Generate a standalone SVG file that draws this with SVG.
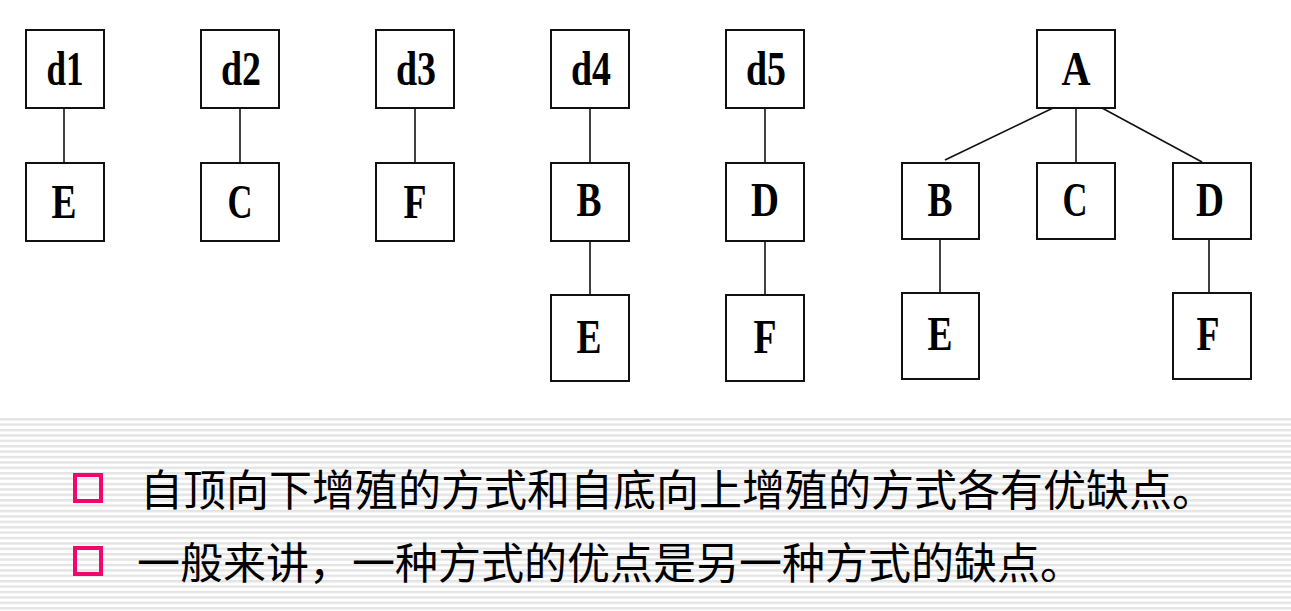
<svg xmlns="http://www.w3.org/2000/svg" width="1291" height="611" viewBox="0 0 1291 611">
  <style>
    .box { fill: #ffffff; stroke: #111111; stroke-width: 2; }
    .lbl { font-family: "Liberation Serif", "DejaVu Serif", serif; font-weight: bold; font-size: 48px; fill: #000000; text-anchor: middle; }
    .edge { stroke: #111111; stroke-width: 1.6; fill: none; }
    .bullet { fill: none; stroke: #f0066c; stroke-width: 4; }
    .para { font-family: "Noto Sans CJK SC", sans-serif; font-size: 43px; fill: #000000; }
  </style>
  <defs>
    <pattern id="stripes" x="0" y="418" width="20" height="5.4" patternUnits="userSpaceOnUse">
      <rect x="0" y="0" width="20" height="5.4" fill="#ffffff"/>
      <rect x="0" y="0" width="20" height="2.4" fill="#e4e4e4"/>
    </pattern>
  </defs>

  <!-- page background -->
  <rect x="0" y="0" width="1291" height="611" fill="#ffffff"/>
  <rect x="0" y="418" width="1291" height="193" fill="url(#stripes)"/>

  <!-- connectors -->
  <g id="connectors">
    <line class="edge" x1="64" y1="108" x2="64" y2="163"/>
    <line class="edge" x1="240" y1="108" x2="240" y2="163"/>
    <line class="edge" x1="415" y1="108" x2="415" y2="163"/>
    <line class="edge" x1="590" y1="108" x2="590" y2="163"/>
    <line class="edge" x1="590" y1="241" x2="590" y2="295"/>
    <line class="edge" x1="765" y1="108" x2="765" y2="163"/>
    <line class="edge" x1="765" y1="241" x2="765" y2="295"/>
    <line class="edge" x1="1053" y1="108" x2="945" y2="160"/>
    <line class="edge" x1="1076" y1="108" x2="1076" y2="163"/>
    <line class="edge" x1="1102" y1="108" x2="1202" y2="162"/>
    <line class="edge" x1="940" y1="239" x2="940" y2="293"/>
    <line class="edge" x1="1209" y1="239" x2="1209" y2="293"/>
  </g>

  <!-- chain d1 - E -->
  <g id="d1"><rect class="box" x="26" y="30" width="78" height="78"/><text class="lbl" x="65" y="85" textLength="37" lengthAdjust="spacingAndGlyphs">d1</text></g>
  <g id="d1-E"><rect class="box" x="26" y="163" width="78" height="78"/><text class="lbl" x="64" y="218" textLength="25" lengthAdjust="spacingAndGlyphs">E</text></g>

  <!-- chain d2 - C -->
  <g id="d2"><rect class="box" x="201" y="30" width="78" height="78"/><text class="lbl" x="241" y="85" textLength="40" lengthAdjust="spacingAndGlyphs">d2</text></g>
  <g id="d2-C"><rect class="box" x="201" y="163" width="78" height="78"/><text class="lbl" x="240" y="218" textLength="25" lengthAdjust="spacingAndGlyphs">C</text></g>

  <!-- chain d3 - F -->
  <g id="d3"><rect class="box" x="376" y="30" width="78" height="78"/><text class="lbl" x="416" y="85" textLength="40" lengthAdjust="spacingAndGlyphs">d3</text></g>
  <g id="d3-F"><rect class="box" x="376" y="163" width="78" height="78"/><text class="lbl" x="415" y="218" textLength="23" lengthAdjust="spacingAndGlyphs">F</text></g>

  <!-- chain d4 - B - E -->
  <g id="d4"><rect class="box" x="551" y="30" width="78" height="78"/><text class="lbl" x="591" y="85" textLength="40" lengthAdjust="spacingAndGlyphs">d4</text></g>
  <g id="d4-B"><rect class="box" x="551" y="163" width="78" height="78"/><text class="lbl" x="589" y="216" textLength="25" lengthAdjust="spacingAndGlyphs">B</text></g>
  <g id="d4-E"><rect class="box" x="551" y="295" width="78" height="86"/><text class="lbl" x="589" y="353" textLength="25" lengthAdjust="spacingAndGlyphs">E</text></g>

  <!-- chain d5 - D - F -->
  <g id="d5"><rect class="box" x="726" y="30" width="78" height="78"/><text class="lbl" x="766" y="85" textLength="40" lengthAdjust="spacingAndGlyphs">d5</text></g>
  <g id="d5-D"><rect class="box" x="726" y="163" width="78" height="78"/><text class="lbl" x="765" y="216" textLength="28" lengthAdjust="spacingAndGlyphs">D</text></g>
  <g id="d5-F"><rect class="box" x="726" y="295" width="78" height="86"/><text class="lbl" x="765" y="353" textLength="23" lengthAdjust="spacingAndGlyphs">F</text></g>

  <!-- merged tree -->
  <g id="tree-A"><rect class="box" x="1037" y="30" width="78" height="78"/><text class="lbl" x="1076" y="85" textLength="29" lengthAdjust="spacingAndGlyphs">A</text></g>
  <g id="tree-B"><rect class="box" x="902" y="163" width="77" height="76"/><text class="lbl" x="940" y="216" textLength="25" lengthAdjust="spacingAndGlyphs">B</text></g>
  <g id="tree-C"><rect class="box" x="1037" y="163" width="78" height="76"/><text class="lbl" x="1075" y="216" textLength="25" lengthAdjust="spacingAndGlyphs">C</text></g>
  <g id="tree-D"><rect class="box" x="1173" y="163" width="78" height="76"/><text class="lbl" x="1210" y="216" textLength="28" lengthAdjust="spacingAndGlyphs">D</text></g>
  <g id="tree-E"><rect class="box" x="902" y="293" width="77" height="86"/><text class="lbl" x="940" y="350" textLength="25" lengthAdjust="spacingAndGlyphs">E</text></g>
  <g id="tree-F"><rect class="box" x="1173" y="293" width="78" height="86"/><text class="lbl" x="1208" y="350" textLength="23" lengthAdjust="spacingAndGlyphs">F</text></g>

  <!-- bullet points -->
  <g id="bullets">
    <rect class="bullet" x="75" y="475" width="26" height="26"/>
    <text class="para" x="140" y="506">自顶向下增殖的方式和自底向上增殖的方式各有优缺点。</text>
    <rect class="bullet" x="75" y="548" width="26" height="26"/>
    <text class="para" x="137" y="579">一般来讲，一种方式的优点是另一种方式的缺点。</text>
  </g>
</svg>
